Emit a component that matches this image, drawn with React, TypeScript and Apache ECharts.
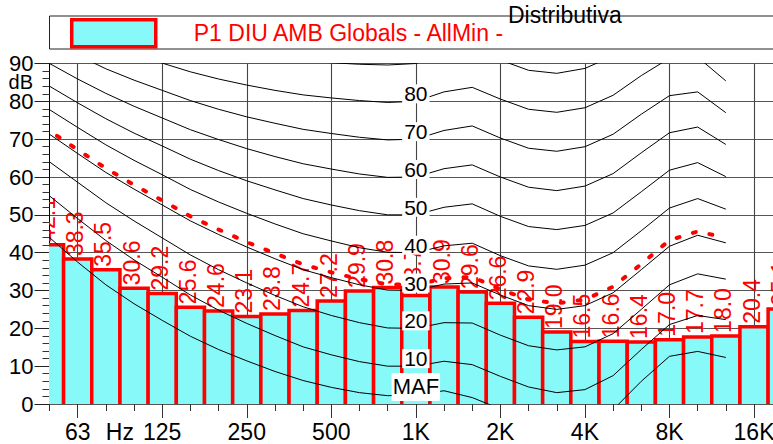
import React, { useEffect, useRef } from "react";
import * as echarts from "echarts";

const FONT = '"Liberation Sans", Arial, Helvetica, sans-serif';
const SERIES_NAME = "P1 DIU AMB Globals - AllMin -";
const BAR_FILL = "#88f9f9";

// third-octave bands (x index 0..26)
const bandNames = [
  "50", "63", "80", "100", "125", "160", "200", "250", "315", "400", "500", "630", "800",
  "1K", "1.25K", "1.6K", "2K", "2.5K", "3.15K", "4K", "5K", "6.3K", "8K", "10K", "12.5K", "16K", "20K",
];
const tickLabels = [
  "", "63", "{hz|Hz}", "", "125", "", "", "250", "", "", "500", "", "", "1K", "", "", "2K", "", "",
  "4K", "", "", "8K", "", "", "16K", "",
];
const octaveIdx = [1, 4, 7, 10, 13, 16, 19, 22, 25];

// measured levels per band (dB)
const barValues = [
  42.1, 38.3, 35.5, 30.6, 29.2, 25.6, 24.6, 23.1, 23.8, 24.7, 27.2, 29.9, 30.8, 28.7,
  30.9, 29.6, 26.6, 22.9, 19.0, 16.5, 16.6, 16.4, 17.0, 17.7, 18.0, 20.4, 25.1,
];

// red dotted contour, 50 Hz .. 12.5 kHz
const redCurve = [
  72.2, 67.2, 62.3, 57.9, 53.8, 49.6, 46.1, 42.8, 39.8, 36.9, 34.8, 33.0, 31.6, 31.5,
  33.2, 33.6, 30.3, 27.6, 26.6, 27.6, 31.0, 37.0, 43.3, 45.6, 43.9,
];

// equal loudness contours, 50 Hz .. 12.5 kHz
const curveMAF = [44.0, 37.5, 31.5, 26.5, 22.1, 17.9, 14.4, 11.4, 8.6, 6.2, 4.4, 3.0, 2.2, 2.4, 3.5, 1.7, -1.3, -4.2, -6.0, -5.4, -1.5, 6.0, 12.6, 13.9, 12.3];
const curve10 = [55.0, 49.0, 43.2, 38.1, 33.5, 28.8, 24.8, 21.3, 18.1, 15.1, 13.0, 11.2, 10.0, 10.0, 11.3, 10.4, 7.3, 4.5, 3.0, 3.8, 7.5, 14.4, 21.0, 23.4, 22.3];
const curve20 = [64.0, 58.6, 53.2, 48.4, 43.9, 39.4, 35.5, 32.0, 28.7, 25.7, 23.4, 21.5, 20.1, 20.0, 21.5, 21.4, 18.2, 15.4, 14.3, 15.1, 18.6, 25.0, 31.5, 34.4, 33.0];
const curve30 = [71.3, 66.2, 61.2, 56.8, 52.6, 48.4, 44.8, 41.5, 38.4, 35.5, 33.4, 31.5, 30.1, 30.0, 31.7, 32.0, 28.8, 26.0, 25.0, 26.0, 29.4, 35.5, 41.7, 44.6, 42.6];
const curve40 = [77.8, 73.1, 68.5, 64.4, 60.6, 56.7, 53.4, 50.4, 47.6, 45.0, 43.1, 41.3, 40.1, 40.0, 41.8, 42.5, 39.2, 36.5, 35.6, 36.7, 40.0, 45.8, 51.8, 54.3, 51.5];
const curve50 = [84.0, 79.6, 75.4, 71.6, 68.2, 64.7, 61.7, 59.0, 56.6, 54.3, 52.6, 51.1, 50.0, 50.0, 52.0, 52.9, 49.6, 46.9, 46.1, 47.2, 50.5, 56.1, 61.8, 63.8, 60.1];
const curve60 = [90.0, 85.9, 82.1, 78.7, 75.6, 72.5, 69.9, 67.5, 65.4, 63.5, 62.1, 60.8, 59.9, 60.0, 62.2, 63.2, 60.0, 57.3, 56.4, 57.6, 60.9, 66.4, 71.7, 73.2, 68.6];
const curve70 = [95.9, 92.2, 88.6, 85.6, 82.9, 80.2, 77.9, 75.9, 74.2, 72.6, 71.5, 70.5, 69.8, 70.0, 72.3, 73.5, 70.3, 67.6, 66.8, 68.0, 71.3, 76.6, 81.5, 82.5, 77.0];
const curve80 = [101.7, 98.4, 95.2, 92.5, 90.1, 87.8, 85.9, 84.3, 82.9, 81.7, 80.9, 80.2, 79.7, 80.0, 82.5, 83.7, 80.6, 77.9, 77.1, 78.3, 81.6, 86.8, 91.4, 91.7, 85.4];
const curve90 = [107.5, 104.5, 101.7, 99.3, 97.3, 95.4, 93.9, 92.7, 91.6, 90.8, 90.2, 89.8, 89.6, 90.0, 92.7, 94.0, 90.9, 88.2, 87.4, 88.7, 92.0, 97.0, 101.3, 101.0, 93.8];

const isoCurves = [curveMAF, curve10, curve20, curve30, curve40, curve50, curve60, curve70, curve80, curve90];
const isoLabelTexts = ["MAF", "10", "20", "30", "40", "50", "60", "70", "80"];
const labelBand = 13; // 1 kHz

function buildOption() {
  const barData = barValues.map((v, i) => [i, v]);

  const lineSeries = isoCurves.map((c) => ({
    type: "line",
    xAxisIndex: 0,
    data: c.map((v, i) => [i, v]),
    symbol: "none",
    silent: true,
    z: 3,
    lineStyle: { color: "#000", width: 1 },
  }));

  const labelData = isoLabelTexts.map((t, k) => ({
    value: [labelBand, isoCurves[k][labelBand]],
    label: k === 0
      ? { fontSize: 22, padding: [3, 1], lineHeight: 22, offset: [0, -8] }
      : {},
    name: t,
  }));

  return {
    animation: false,
    backgroundColor: "#fff",
    textStyle: { fontFamily: FONT },
    grid: {
      left: 49.5,
      top: 63.5,
      width: 732.7,
      height: 340.5,
      containLabel: false,
      outerBoundsMode: "none",
    },
    legend: {
      data: [
        {
          name: SERIES_NAME,
          icon: "rect",
          itemStyle: { color: BAR_FILL, borderColor: "#ff0000", borderWidth: 3.5 },
        },
      ],
      left: 70,
      top: 18,
      padding: 0,
      itemWidth: 84,
      itemHeight: 27,
      selectedMode: false,
      textStyle: {
        color: "#ff0000",
        fontSize: 23,
        fontFamily: FONT,
        padding: [0, 0, 0, 33],
      },
    },
    graphic: [
      {
        type: "rect",
        shape: { x: 49.5, y: 16, width: 760, height: 33 },
        style: { fill: "none", stroke: "#222", lineWidth: 1 },
        z: 1,
        silent: true,
      },
      {
        type: "text",
        x: 508,
        y: 15,
        z: 2,
        style: {
          text: "Distributiva",
          fill: "#000",
          fontSize: 23,
          fontFamily: FONT,
          align: "left",
          textAlign: "left",
          verticalAlign: "middle",
          textVerticalAlign: "middle",
        },
      },
      {
        type: "text",
        x: 33,
        y: 81.5,
        z: 2,
        style: {
          text: "dB",
          fill: "#000",
          fontSize: 20,
          fontFamily: FONT,
          align: "right",
          textAlign: "right",
          verticalAlign: "middle",
          textVerticalAlign: "middle",
        },
      },
    ],
    xAxis: [
      {
        type: "value",
        min: 0,
        max: 26,
        interval: 1,
        position: "bottom",
        axisLine: { show: false },
        axisTick: { show: true, length: 7, lineStyle: { color: "#333" } },
        axisLabel: { show: false },
        splitLine: { show: false },
      },
      {
        type: "category",
        data: bandNames,
        boundaryGap: false,
        position: "bottom",
        axisLine: { show: false },
        axisTick: {
          show: true,
          length: 14,
          interval: (i: number) => octaveIdx.indexOf(i) >= 0,
          lineStyle: { color: "#333" },
        },
        axisLabel: {
          interval: (i: number) => tickLabels[i] !== "",
          formatter: (_v: string, i: number) => tickLabels[i],
          fontSize: 23,
          fontFamily: FONT,
          color: "#000",
          margin: 16,
          hideOverlap: false,
          rich: { hz: { fontSize: 23, fontFamily: FONT, color: "#000", padding: [0, 0, 0, 28] } },
        },
        splitLine: {
          show: true,
          interval: (i: number) => octaveIdx.indexOf(i) >= 0,
          lineStyle: { color: "#444", width: 1.1 },
        },
      },
    ],
    yAxis: {
      type: "value",
      min: 0,
      max: 90,
      interval: 10,
      axisLine: { show: true, lineStyle: { color: "#000", width: 1 } },
      axisTick: { show: true, length: 15, lineStyle: { color: "#222" } },
      minorTick: { show: true, splitNumber: 5, length: 7, lineStyle: { color: "#333" } },
      axisLabel: { fontSize: 22, fontFamily: FONT, color: "#000", margin: 16 },
      splitLine: { show: true, lineStyle: { color: "#555", width: 1.2 } },
    },
    series: [
      {
        type: "custom",
        name: SERIES_NAME,
        xAxisIndex: 0,
        clip: true,
        z: 2,
        itemStyle: { color: BAR_FILL, borderColor: "#ff0000", borderWidth: 3.5 },
        data: barData,
        renderItem: (_params: any, api: any) => {
          const n = api.value(0);
          const v = api.value(1);
          const p0 = api.coord([n - 0.5, v]);
          const p1 = api.coord([n + 0.5, -3]);
          const pc = api.coord([n, v]);
          return {
            type: "group",
            children: [
              {
                type: "rect",
                shape: { x: p0[0], y: p0[1], width: p1[0] - p0[0], height: p1[1] - p0[1] },
                style: { fill: BAR_FILL, stroke: "#ff0000", lineWidth: 3.5 },
              },
              {
                type: "text",
                x: pc[0] - 2.5,
                y: pc[1] - 3,
                rotation: Math.PI / 2,
                style: {
                  text: v.toFixed(1),
                  fill: "#ff0000",
                  fontSize: 23,
                  fontFamily: FONT,
                  align: "left",
                  verticalAlign: "middle",
                },
              },
            ],
          };
        },
      },
      ...lineSeries,
      {
        type: "line",
        xAxisIndex: 0,
        data: redCurve.map((v, i) => [i, v]),
        symbol: "none",
        silent: true,
        z: 4,
        lineStyle: { color: "#ff0000", width: 4, type: [3, 14], dashOffset: 8, cap: "round" },
      },
      {
        type: "scatter",
        xAxisIndex: 0,
        symbolSize: 0,
        silent: true,
        z: 10,
        itemStyle: { opacity: 1 },
        data: labelData,
        label: {
          show: true,
          position: "inside",
          formatter: (p: any) => p.name,
          color: "#000",
          fontSize: 21,
          fontFamily: FONT,
          backgroundColor: "#fff",
          padding: [0, 2],
          lineHeight: 19,
          offset: [0, -7.5],
        },
      },
    ],
  };
}

export default function App() {
  const ref = useRef<HTMLDivElement>(null);
  useEffect(() => {
    if (!ref.current) return;
    const chart = echarts.init(ref.current, null, { renderer: "svg" });
    chart.setOption(buildOption() as any);
    return () => chart.dispose();
  }, []);
  return (
    <div
      ref={ref}
      style={{ position: "fixed", left: 0, top: 0, width: 773, height: 444, background: "#fff" }}
    />
  );
}
